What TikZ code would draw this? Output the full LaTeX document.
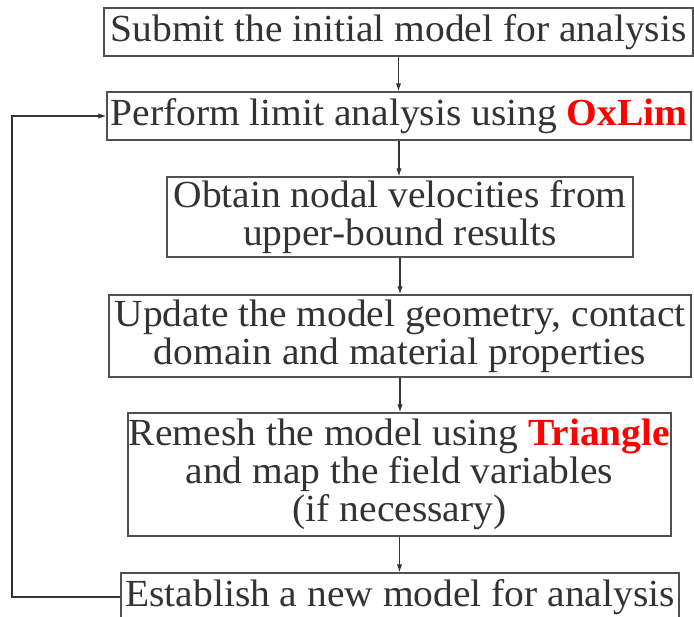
\documentclass[tikz,border=0pt]{standalone}
\usepackage{fontspec}
\setmainfont{Liberation Serif}[FakeStretch=1.03]
\usetikzlibrary{arrows.meta}
\definecolor{txtgray}{RGB}{51,51,51}
\definecolor{boxgray}{RGB}{80,80,80}
\definecolor{hired}{RGB}{255,0,0}
\newcommand{\tool}[1]{\textcolor{hired}{\bfseries #1}}

\begin{document}
\begin{tikzpicture}[x=0.75pt,y=-0.75pt,
  stepbox/.style={draw=boxgray,line width=0.9pt,inner sep=0pt,align=center,text=txtgray,
    font=\fontsize{28.75pt}{28.5pt}\selectfont},
  arr/.style={-{Latex[length=6pt,width=4pt]},txtgray,line width=0.9pt}]
\useasboundingbox (0,0) rectangle (694,617);
\node[stepbox,minimum width=441.75pt,minimum height=36pt] (submit) at (398.5,32) {Submit the initial model for analysis};
\node[stepbox,minimum width=438pt,minimum height=36pt] (perform) at (399,116) {Perform limit analysis using \tool{OxLim}};
\node[stepbox,minimum width=349.5pt,minimum height=60pt] (obtain) at (400,217) {Obtain nodal velocities from\\upper-bound results};
\node[stepbox,minimum width=436.5pt,minimum height=61.5pt] (update) at (400,336) {Update the model geometry, contact\\domain and material properties};
\node[stepbox,minimum width=407.25pt,minimum height=92.25pt] (remesh) at (399.5,474.5) {Remesh the model using \tool{Triangle}\\and map the field variables\\(if necessary)};
\node[stepbox,minimum width=418.5pt,minimum height=36pt] (establish) at (400,597) {Establish a new model for analysis};
\coordinate (loop) at (12,0);
\draw[arr] (submit.south) -- (submit.south |- perform.north);
\draw[arr] (perform.south) -- (perform.south |- obtain.north);
\draw[arr] (obtain.south) -- (obtain.south |- update.north);
\draw[arr] (update.south) -- (update.south |- remesh.north);
\draw[arr] (remesh.south) -- (remesh.south |- establish.north);
\draw[arr] (establish.west) -- (establish.west -| loop) |- (perform.west);
\end{tikzpicture}
\end{document}
